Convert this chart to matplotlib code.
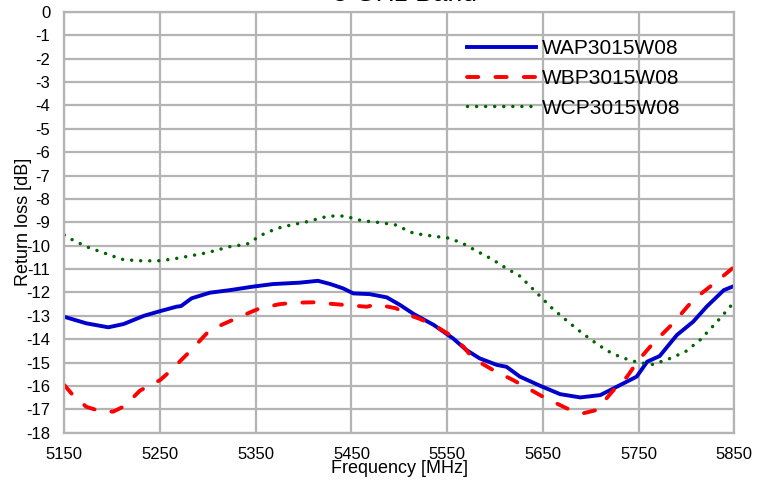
import matplotlib.pyplot as plt

plt.rcParams['font.family'] = ['Liberation Sans', 'DejaVu Sans']
plt.rcParams['axes.unicode_minus'] = False

# return loss curves (MHz, dB)
wap_freq = [5150, 5173, 5196, 5212, 5233, 5250, 5267, 5272, 5283, 5302, 5323, 5347, 5368,
            5396, 5415, 5428, 5441, 5452, 5469, 5487, 5501, 5515, 5536, 5556, 5570, 5584,
            5602, 5612, 5626, 5647, 5668, 5689, 5710, 5724, 5748, 5759, 5772, 5790, 5807,
            5821, 5839, 5850]
wap_rl = [-13.04, -13.32, -13.49, -13.35, -13.0, -12.8, -12.61, -12.58, -12.25, -12.01, -11.9,
          -11.75, -11.64, -11.58, -11.5, -11.64, -11.82, -12.04, -12.07, -12.21, -12.54, -12.92,
          -13.39, -13.96, -14.46, -14.82, -15.1, -15.18, -15.6, -15.99, -16.35, -16.49, -16.39,
          -16.1, -15.6, -14.96, -14.72, -13.82, -13.25, -12.61, -11.9, -11.72]

wbp_freq = [5150, 5159, 5173, 5186, 5201, 5213, 5229, 5250, 5260, 5281, 5302, 5330, 5354,
            5375, 5389, 5410, 5445, 5466, 5476, 5497, 5504, 5522, 5536, 5553, 5567, 5577,
            5598, 5619, 5650, 5675, 5692, 5706, 5724, 5738, 5750, 5765, 5786, 5807, 5832, 5850]
wbp_rl = [-15.96, -16.39, -16.89, -17.06, -17.1, -16.86, -16.2, -15.75, -15.39, -14.53, -13.61,
          -13.1, -12.68, -12.5, -12.44, -12.42, -12.54, -12.61, -12.51, -12.68, -12.87, -13.14,
          -13.39, -13.82, -14.32, -14.82, -15.32, -15.75, -16.46, -16.96, -17.17, -17.03, -16.17,
          -15.6, -14.89, -14.18, -13.32, -12.32, -11.51, -10.9]

wcp_freq = [5150, 5159, 5175, 5193, 5210, 5226, 5247, 5262, 5281, 5299, 5323, 5341, 5356,
            5372, 5389, 5400, 5426, 5443, 5461, 5480, 5496, 5515, 5539, 5550, 5565, 5581,
            5597, 5612, 5626, 5640, 5659, 5673, 5687, 5701, 5717, 5732, 5750, 5765, 5783,
            5799, 5814, 5832, 5850]
wcp_rl = [-9.54, -9.76, -10.07, -10.33, -10.58, -10.64, -10.65, -10.58, -10.44, -10.3, -10.04,
          -9.93, -9.54, -9.26, -9.09, -9.01, -8.73, -8.73, -8.93, -9.01, -9.11, -9.47, -9.61,
          -9.66, -9.87, -10.23, -10.58, -10.97, -11.3, -11.87, -12.65, -13.14, -13.61, -14.04,
          -14.49, -14.78, -15.0, -15.08, -14.82, -14.53, -14.04, -13.25, -12.4]

x_ticks = [5150, 5250, 5350, 5450, 5550, 5650, 5750, 5850]
y_ticks = list(range(-18, 1))

fig = plt.figure(figsize=(7.67, 4.8), dpi=100)
ax = fig.add_axes([0.0838, 0.0985, 0.8736, 0.8765])

ax.plot(wap_freq, wap_rl, color='#0000cc', lw=2.8, label='WAP3015W08')
ax.plot(wbp_freq, wbp_rl, color='#ff0000', lw=2.8, linestyle=(0, (2.9, 4.4)),
        dash_capstyle='round', label='WBP3015W08')
ax.plot(wcp_freq, wcp_rl, color='#006400', lw=2.5, linestyle=(0, (0.01, 2.6)),
        dash_capstyle='round', label='WCP3015W08')

ax.set_xlim(5150, 5850)
ax.set_ylim(-18, 0)
ax.set_xticks(x_ticks)
ax.set_yticks(y_ticks)
ax.grid(True, color='#b4b4b4', lw=1.6)
ax.set_axisbelow(True)
for s in ax.spines.values():
    s.set_color('#b4b4b4')
    s.set_linewidth(1.6)
ax.tick_params(axis='y', length=0, labelsize=12, pad=10)
ax.tick_params(axis='x', length=0, labelsize=12, pad=10)

ax.set_xlabel('Frequency [MHz]', fontsize=13, labelpad=-1)
ax.set_ylabel('Return loss [dB]', fontsize=13, labelpad=-4)

# title sits mostly above the canvas in the reference, only its bottom shows
fig.text(0.528, 0.9975, '5 GHz Band', ha='center', va='baseline', fontsize=19)

ax.legend(loc='upper right', frameon=False, fontsize=15, handlelength=3.3,
          handletextpad=0.3, labelspacing=0.52, borderaxespad=0.9,
          bbox_to_anchor=(0.96, 1.0))

fig.savefig('out.png', dpi=100)
